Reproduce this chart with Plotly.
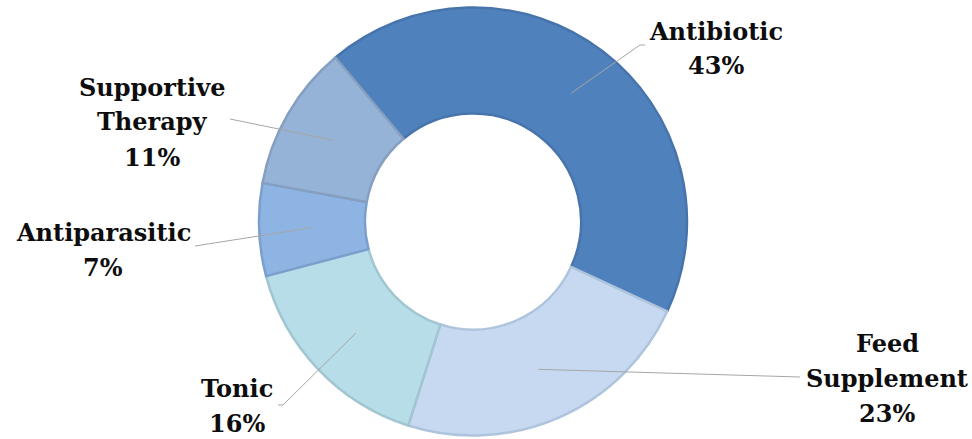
import math
import plotly.graph_objects as go

# Treatment categories and their shares (%)
categories = ["Antibiotic", "Feed Supplement", "Tonic", "Antiparasitic", "Supportive Therapy"]
shares = [43, 23, 16, 7, 11]

# Label text split into lines (name lines, then the percentage line)
label_lines = [
    ["Antibiotic"],
    ["Feed", "Supplement"],
    ["Tonic"],
    ["Antiparasitic"],
    ["Supportive", "Therapy"],
]

# Styling
fill_colors = ["#4F81BD", "#C6D9F0", "#B6DDE8", "#8DB4E2", "#95B3D7"]
edge_colors = ["#4874AC", "#AEC3DC", "#A1C6D2", "#7B9FCC", "#869FC0"]

W, H = 972, 439
CX, CY, R = 473, 221.5, 214       # donut centre and outer radius (px)
HOLE = 0.505
START_ANGLE = -40                  # degrees clockwise from 12 o'clock

# Label block placement: (text centre x, first line centre y, elbow x, elbow y, line end x)
label_layout = [
    (716, 31, 640, 45, 645),
    (887, 343, 800, 377, 800),
    (237, 388, 283, 405, 278),
    (103, 232, 195, 246, 195),
    (152, 87, 230, 119, 230),
]
LINE_STEP = 35


def px(x):
    return x / W


def py(y):
    return 1 - y / H


fig = go.Figure(
    go.Pie(
        labels=categories,
        values=shares,
        sort=False,
        direction="clockwise",
        rotation=START_ANGLE,
        hole=HOLE,
        textinfo="none",
        hoverinfo="label+percent",
        marker=dict(colors=fill_colors, line=dict(color=edge_colors, width=2.5)),
        domain=dict(x=[px(CX - R), px(CX + R)], y=[py(CY + R), py(CY - R)]),
        showlegend=False,
    )
)

shapes = []
annotations = []
total = sum(shares)
cum = 0
for name, val, lines, lay in zip(categories, shares, label_lines, label_layout):
    mid = START_ANGLE + (cum + val / 2) / total * 360
    cum += val
    a = math.radians(mid)
    rr = R * 0.755
    x0 = CX + rr * math.sin(a)
    y0 = CY - rr * math.cos(a)
    tx, ty, ex, ey, lx = lay
    path = f"M {px(x0)},{py(y0)} L {px(ex)},{py(ey)} L {px(lx)},{py(ey)}"
    shapes.append(dict(type="path", xref="paper", yref="paper", path=path,
                       line=dict(color="#A6A6A6", width=1)))
    pct = f"{round(val / total * 100)}%"
    for i, t in enumerate(lines + [pct]):
        annotations.append(dict(
            x=px(tx), y=py(ty + i * LINE_STEP), xref="paper", yref="paper",
            text=f"<b>{t}</b>", showarrow=False, xanchor="center", yanchor="middle",
            font=dict(family="DejaVu Serif", size=24, color="#0D0D0D"),
        ))

fig.update_layout(
    width=W, height=H,
    margin=dict(l=0, r=0, t=0, b=0),
    paper_bgcolor="white", plot_bgcolor="white",
    shapes=shapes, annotations=annotations,
)

fig.write_html("out.html")
